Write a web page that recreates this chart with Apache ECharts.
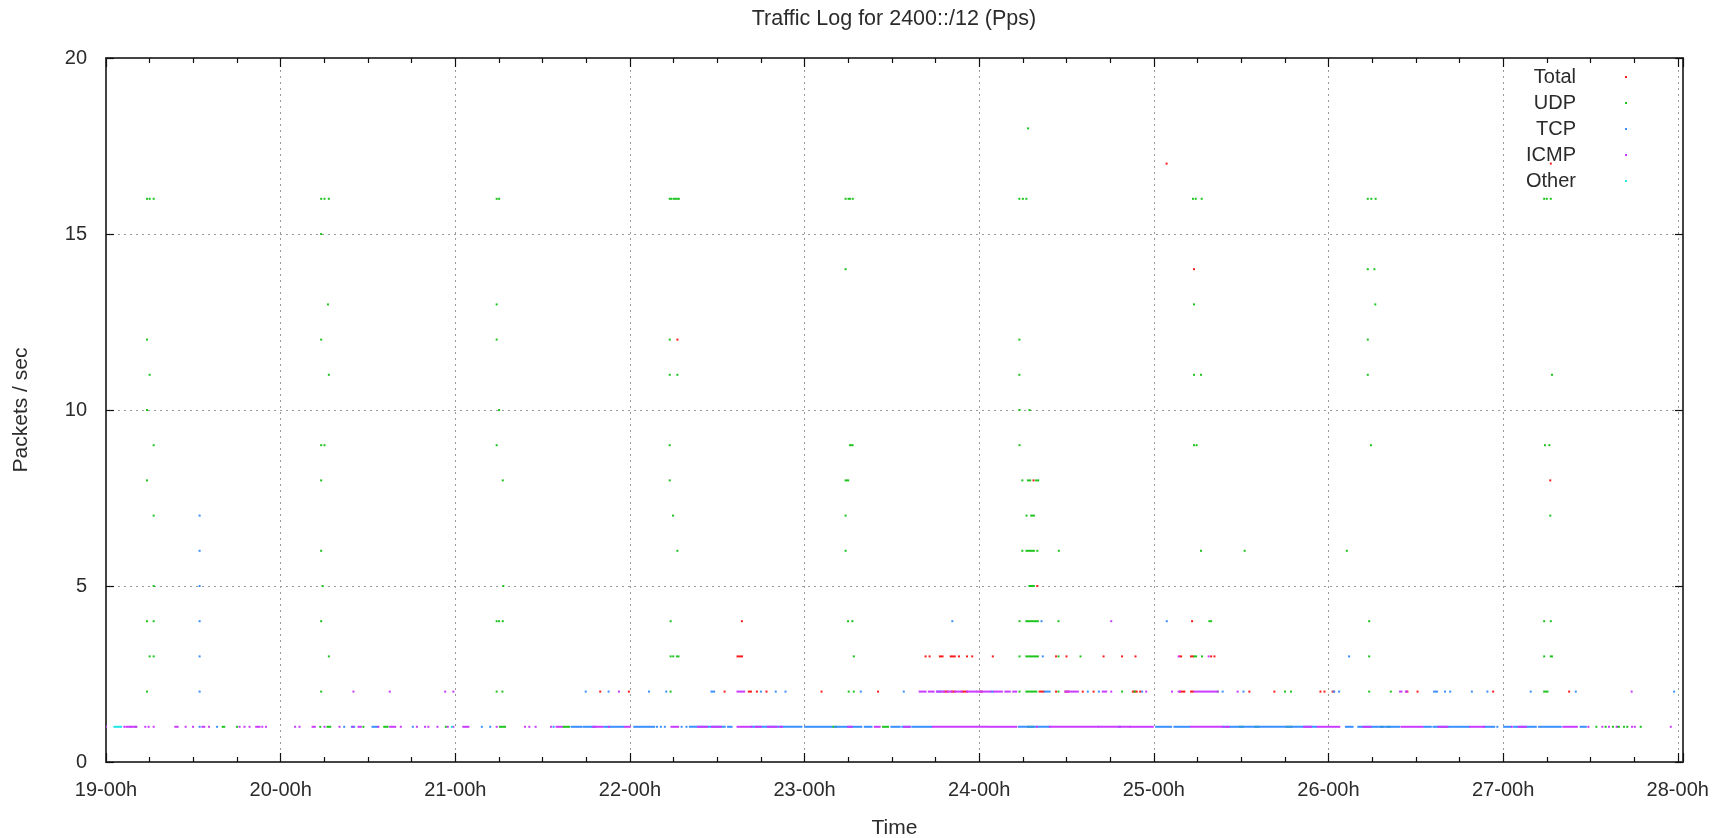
<!DOCTYPE html>
<html><head><meta charset="utf-8">
<script src="https://cdn.jsdelivr.net/npm/echarts@6/dist/echarts.min.js"></script>
<style>html,body{margin:0;padding:0;background:#fff}#c{width:1725px;height:838px}</style>
</head><body><div id="c"></div>
<script>
// x = day of month (19.0 = "19-00h"), each mark = [startDay, endDay, packetsPerSec]
const xRange = [19, 28.03];
const yRange = [0, 20];
const seriesNames = ['Total', 'UDP', 'TCP', 'ICMP', 'Other'];
const seriesColors = ['#ff1a1a', '#1ec41e', '#3a8fff', '#c93cff', '#1ee6e6'];

const totalMarks = [
 [21.830,21.830,2],[21.994,21.994,2],[22.542,22.542,2],[22.681,22.693,2],[22.727,22.727,2],[22.782,22.782,2],[23.097,23.097,2],[23.421,23.421,2],
 [23.800,23.818,2],[23.842,23.862,2],[23.900,23.930,2],[24.005,24.016,2],[24.346,24.370,2],[24.440,24.440,2],[24.494,24.510,2],[24.593,24.593,2],
 [24.655,24.655,2],[24.880,24.902,2],[24.922,24.922,2],[25.150,25.175,2],[25.213,25.225,2],[25.547,25.547,2],[25.690,25.690,2],[25.954,25.954,2],
 [25.977,25.977,2],[26.024,26.030,2],[26.448,26.452,2],[26.510,26.510,2],[26.943,26.943,2],[27.378,27.378,2],
 [22.616,22.642,3],[23.693,23.693,3],[23.716,23.716,3],[23.775,23.790,3],[23.837,23.860,3],[23.884,23.884,3],[23.930,23.930,3],[23.960,23.960,3],
 [24.078,24.078,3],[24.440,24.440,3],[24.500,24.500,3],[24.712,24.712,3],[24.818,24.818,3],[24.895,24.895,3],[25.150,25.156,3],[25.213,25.225,3],
 [25.328,25.328,3],[25.347,25.347,3],
 [22.641,22.641,4],[25.219,25.219,4],[24.333,24.333,5],[24.311,24.311,8],[27.270,27.270,8],[22.272,22.272,12],[25.230,25.230,14],
 [25.073,25.073,17],[27.273,27.273,17]
];

const udpMarks = [
 [19.235,19.235,16],[19.250,19.250,16],[19.273,19.273,16],[19.235,19.235,12],[19.250,19.250,11],[19.235,19.235,10],[19.273,19.273,9],[19.235,19.235,8],
 [19.273,19.273,7],[19.273,19.273,5],[19.235,19.235,4],[19.273,19.273,4],[19.250,19.250,3],[19.273,19.273,3],[19.235,19.235,2],[19.170,19.170,1],
 [19.668,19.677,1],[19.750,19.750,1],
 [20.232,20.232,16],[20.251,20.251,16],[20.276,20.276,16],[20.232,20.232,15],[20.271,20.271,13],[20.232,20.232,12],[20.276,20.276,11],[20.232,20.232,9],
 [20.251,20.251,9],[20.232,20.232,8],[20.232,20.232,6],[20.240,20.240,5],[20.232,20.232,4],[20.276,20.276,3],[20.232,20.232,2],[20.227,20.227,1],
 [20.268,20.284,1],[20.474,20.474,1],[20.593,20.612,1],[20.946,20.946,1],
 [21.237,21.237,16],[21.251,21.251,16],[21.237,21.237,13],[21.237,21.237,12],[21.251,21.251,10],[21.237,21.237,9],[21.272,21.272,8],[21.275,21.275,5],
 [21.237,21.237,4],[21.251,21.251,4],[21.272,21.272,4],[21.237,21.237,2],[21.270,21.270,2],[21.256,21.285,1],[21.618,21.651,1],
 [22.228,22.236,16],[22.250,22.262,16],[22.272,22.280,16],[22.228,22.228,12],[22.228,22.228,11],[22.272,22.272,11],[22.228,22.228,9],[22.228,22.228,8],
 [22.247,22.247,7],[22.272,22.272,6],[22.233,22.233,4],[22.233,22.233,3],[22.248,22.248,3],[22.270,22.278,3],[22.233,22.233,2],
 [23.235,23.235,16],[23.252,23.260,16],[23.276,23.276,16],[23.235,23.235,14],[23.260,23.275,9],[23.235,23.250,8],[23.235,23.235,7],[23.235,23.235,6],
 [23.249,23.249,4],[23.274,23.274,4],[23.282,23.282,3],[23.253,23.253,2],[23.282,23.282,2],[23.163,23.180,1],[23.449,23.478,1],
 [24.230,24.230,16],[24.250,24.250,16],[24.270,24.270,16],[24.280,24.280,18],[24.230,24.230,12],[24.230,24.230,11],[24.231,24.231,10],[24.288,24.288,10],
 [24.231,24.231,9],[24.247,24.247,8],[24.279,24.292,8],[24.326,24.338,8],[24.271,24.271,7],[24.298,24.313,7],[24.247,24.247,6],[24.271,24.313,6],
 [24.333,24.333,6],[24.456,24.456,6],[24.288,24.313,5],[24.231,24.231,4],[24.270,24.336,4],[24.454,24.454,4],[24.231,24.231,3],[24.270,24.336,3],
 [24.454,24.454,3],[24.580,24.580,3],[24.231,24.231,2],[24.270,24.327,2],[24.454,24.454,2],[24.818,24.818,2],[24.890,24.890,2],[24.280,24.310,1],
 [25.224,25.224,16],[25.240,25.240,16],[25.274,25.274,16],[25.230,25.230,13],[25.230,25.230,11],[25.270,25.270,11],[25.230,25.230,9],[25.245,25.245,9],
 [25.270,25.270,6],[25.520,25.520,6],[25.318,25.318,4],[25.328,25.328,4],[25.232,25.242,3],[25.276,25.276,3],[25.366,25.366,2],[25.751,25.751,2],
 [25.785,25.785,2],[25.490,25.510,1],[25.580,25.600,1],[25.760,25.790,1],
 [26.225,26.225,16],[26.245,26.245,16],[26.270,26.270,16],[26.225,26.225,14],[26.263,26.263,14],[26.268,26.268,13],[26.225,26.225,12],[26.225,26.225,11],
 [26.243,26.243,9],[26.105,26.105,6],[26.233,26.233,4],[26.233,26.233,3],[26.233,26.233,2],[26.357,26.357,2],[26.300,26.310,1],[26.340,26.350,1],
 [27.235,27.235,16],[27.250,27.250,16],[27.273,27.273,16],[27.280,27.280,11],[27.240,27.240,9],[27.265,27.265,9],[27.270,27.270,7],[27.235,27.235,4],
 [27.273,27.273,4],[27.235,27.235,3],[27.273,27.280,3],[27.235,27.254,2],[27.534,27.534,1],[27.587,27.587,1],[27.629,27.629,1],[27.656,27.663,1],
 [27.692,27.692,1],[27.711,27.711,1],[27.788,27.788,1]
];

const tcpMarks = [
 [19.536,19.536,7],[19.536,19.536,6],[19.536,19.536,5],[19.536,19.536,4],[19.536,19.536,3],[19.536,19.536,2],[19.536,19.536,1],[19.636,19.636,1],
 [20.364,20.364,1],[20.408,20.421,1],[20.526,20.554,1],[20.757,20.757,1],[21.152,21.152,1],[21.200,21.200,1],[21.563,21.563,1],
 [21.666,21.720,1],[21.733,21.800,1],[21.853,21.962,1],[22.025,22.139,1],[22.155,22.155,1],[22.177,22.177,1],[22.200,22.200,1],[22.296,22.296,1],
 [22.324,22.324,1],[22.343,22.543,1],[22.562,22.582,1],[22.696,22.982,1],[23.003,23.154,1],[23.175,23.325,1],[23.345,23.383,1],[23.497,23.545,1],
 [23.560,23.602,1],[23.617,23.726,1],[24.227,24.403,1],[24.800,24.806,1],[25.013,25.099,1],[25.118,25.204,1],[25.394,25.471,1],[25.480,25.661,1],
 [25.671,25.929,1],[26.100,26.138,1],[26.171,26.243,1],[26.252,26.281,1],[26.291,26.405,1],[26.548,26.586,1],[26.601,26.710,1],[26.720,26.806,1],
 [26.891,26.949,1],[26.967,26.967,1],[27.006,27.044,1],[27.063,27.187,1],[27.206,27.225,1],[27.235,27.330,1],[27.444,27.473,1],
 [21.747,21.747,2],[21.878,21.878,2],[22.109,22.109,2],[22.208,22.208,2],[22.467,22.482,2],[22.750,22.750,2],[22.835,22.835,2],[22.891,22.891,2],
 [23.322,23.322,2],[23.568,23.568,2],[23.760,23.780,2],[24.070,24.078,2],[24.375,24.403,2],[24.622,24.622,2],[24.685,24.685,2],[24.933,24.933,2],
 [25.394,25.394,2],[25.513,25.513,2],[26.030,26.033,2],[26.061,26.061,2],[26.605,26.621,2],[26.667,26.667,2],[26.697,26.697,2],[26.821,26.821,2],
 [26.910,26.910,2],[27.158,27.158,2],[27.416,27.416,2],[27.979,27.979,2],
 [24.364,24.364,3],[26.118,26.118,3],[23.846,23.846,4],[24.357,24.357,4],[25.074,25.074,4]
];

const icmpMarks = [
 [19.000,19.000,1],[19.105,19.105,1],[19.117,19.140,1],[19.145,19.174,1],[19.225,19.225,1],[19.244,19.244,1],[19.273,19.273,1],[19.397,19.410,1],
 [19.456,19.456,1],[19.498,19.498,1],[19.552,19.563,1],[19.590,19.590,1],[19.765,19.765,1],[19.793,19.793,1],[19.822,19.822,1],[19.860,19.879,1],
 [19.895,19.895,1],[19.916,19.916,1],[20.083,20.083,1],[20.108,20.108,1],[20.183,20.196,1],[20.251,20.251,1],[20.337,20.337,1],[20.413,20.413,1],
 [20.446,20.459,1],[20.560,20.560,1],[20.627,20.656,1],[20.688,20.688,1],[20.780,20.780,1],[20.827,20.827,1],[20.846,20.846,1],[20.898,20.898,1],
 [20.957,20.957,1],[20.989,20.989,1],[21.046,21.075,1],[21.237,21.237,1],[21.399,21.399,1],[21.424,21.424,1],[21.460,21.460,1],[21.548,21.548,1],
 [21.580,21.609,1],[21.790,21.842,1],[21.880,21.880,1],[21.971,22.000,1],[22.238,22.276,1],[22.390,22.440,1],[22.470,22.520,1],[22.616,22.696,1],
 [22.720,22.750,1],[22.790,22.840,1],[22.860,22.870,1],[23.250,23.270,1],[23.402,23.430,1],[23.570,23.602,1],[23.735,24.050,1],[24.060,24.212,1],
 [24.330,24.330,1],[24.405,24.680,1],[24.686,24.860,1],[24.864,24.994,1],[25.213,25.394,1],[25.410,25.430,1],[25.860,25.900,1],[25.938,26.062,1],
 [26.200,26.240,1],[26.418,26.538,1],[26.630,26.680,1],[26.811,26.891,1],[27.050,27.050,1],[27.090,27.130,1],[27.345,27.422,1],[27.488,27.488,1],
 [27.568,27.568,1],[27.606,27.606,1],[27.650,27.650,1],[27.738,27.738,1],[27.754,27.754,1],[27.960,27.960,1],
 [20.417,20.417,2],[20.625,20.625,2],[20.942,20.942,2],[20.989,20.989,2],[21.937,21.937,2],[22.616,22.654,2],[23.659,23.693,2],[23.712,23.739,2],
 [23.758,23.800,2],[23.818,23.842,2],[23.862,23.900,2],[23.930,23.983,2],[23.990,24.005,2],[24.016,24.065,2],[24.085,24.130,2],[24.150,24.175,2],
 [24.195,24.212,2],[24.494,24.565,2],[24.708,24.727,2],[24.756,24.756,2],[24.956,24.956,2],[25.104,25.104,2],[25.142,25.150,2],[25.232,25.366,2],
 [25.480,25.480,2],[26.410,26.418,2],[26.443,26.448,2],[27.736,27.736,2],
 [25.142,25.142,3],[25.314,25.314,3],[24.756,24.756,4]
];

const otherMarks = [
 [19.048,19.086,1],[20.980,20.980,1]
];

const allMarks = [totalMarks, udpMarks, tcpMarks, icmpMarks, otherMarks];

const FONT = "'Liberation Sans', Arial, sans-serif";
const TXT = '#2b2b2b';

function renderMark(params, api) {
  const a = api.coord([api.value(0), api.value(2)]);
  const b = api.coord([api.value(1), api.value(2)]);
  return {
    type: 'rect',
    shape: { x: a[0] - 1, y: a[1] - 1, width: Math.max(2, b[0] - a[0] + 2), height: 2 },
    style: { fill: api.visual('color') }
  };
}

const chart = echarts.init(document.getElementById('c'), null, { renderer: 'canvas' });

const tickLine = { color: '#111', width: 1.2 };
const borderLine = { color: '#444', width: 2 };
const gridLine = { color: '#9a9a9a', width: 1, type: [2, 4] };
const dayLabel = v => Math.abs(v - Math.round(v)) < 1e-6 ? Math.round(v) + '-00h' : '';

chart.setOption({
  animation: false,
  backgroundColor: '#fff',
  title: {
    text: 'Traffic Log for 2400::/12 (Pps)',
    left: 894, top: 8, padding: 0, textAlign: 'center',
    textStyle: { fontSize: 21.5, fontWeight: 'normal', color: TXT, fontFamily: FONT }
  },
  legend: {
    data: seriesNames,
    orient: 'vertical', align: 'right',
    right: 98, top: 67, padding: 0, itemGap: 6,
    icon: 'rect', itemWidth: 2, itemHeight: 2,
    textStyle: { fontSize: 20, color: TXT, fontFamily: FONT, lineHeight: 20, padding: [0, 44, 0, 0] }
  },
  grid: { left: 106, right: 42, top: 58, bottom: 76, outerBoundsMode: 'none', containLabel: false },
  xAxis: [{
    type: 'value', position: 'bottom', min: xRange[0], max: xRange[1], interval: 1,
    name: 'Time', nameLocation: 'middle', nameGap: 56,
    nameTextStyle: { fontSize: 21, color: TXT, fontFamily: FONT },
    axisLine: { show: true, onZero: false, lineStyle: borderLine },
    axisTick: { show: true, inside: true, length: 9, lineStyle: tickLine },
    minorTick: { show: true, splitNumber: 4, length: 5, lineStyle: tickLine },
    axisLabel: { formatter: dayLabel, fontSize: 20, color: TXT, fontFamily: FONT, margin: 18 },
    splitLine: { show: true, lineStyle: gridLine }
  }, {
    type: 'value', position: 'top', min: xRange[0], max: xRange[1], interval: 1,
    axisLine: { show: true, onZero: false, lineStyle: borderLine },
    axisTick: { show: true, inside: true, length: 9, lineStyle: tickLine },
    minorTick: { show: true, splitNumber: 4, length: 5, lineStyle: tickLine },
    axisLabel: { show: false },
    splitLine: { show: false }
  }],
  yAxis: [{
    type: 'value', position: 'left', min: yRange[0], max: yRange[1], interval: 5,
    name: 'Packets / sec', nameLocation: 'middle', nameGap: 74, nameRotate: 90,
    nameTextStyle: { fontSize: 21, color: TXT, fontFamily: FONT },
    axisLine: { show: true, onZero: false, lineStyle: borderLine },
    axisTick: { show: true, inside: true, length: 8, lineStyle: tickLine },
    axisLabel: { fontSize: 20, color: TXT, fontFamily: FONT, margin: 19 },
    splitLine: { show: true, lineStyle: gridLine }
  }, {
    type: 'value', position: 'right', min: yRange[0], max: yRange[1], interval: 5,
    axisLine: { show: true, onZero: false, lineStyle: borderLine },
    axisTick: { show: true, inside: true, length: 8, lineStyle: tickLine },
    axisLabel: { show: false },
    splitLine: { show: false }
  }],
  series: seriesNames.map((name, i) => ({
    name: name,
    type: 'custom',
    xAxisIndex: 0, yAxisIndex: 0,
    clip: true,
    renderItem: renderMark,
    encode: { x: [0, 1], y: 2 },
    itemStyle: { color: seriesColors[i] },
    data: allMarks[i]
  }))
});
</script>
</body></html>
